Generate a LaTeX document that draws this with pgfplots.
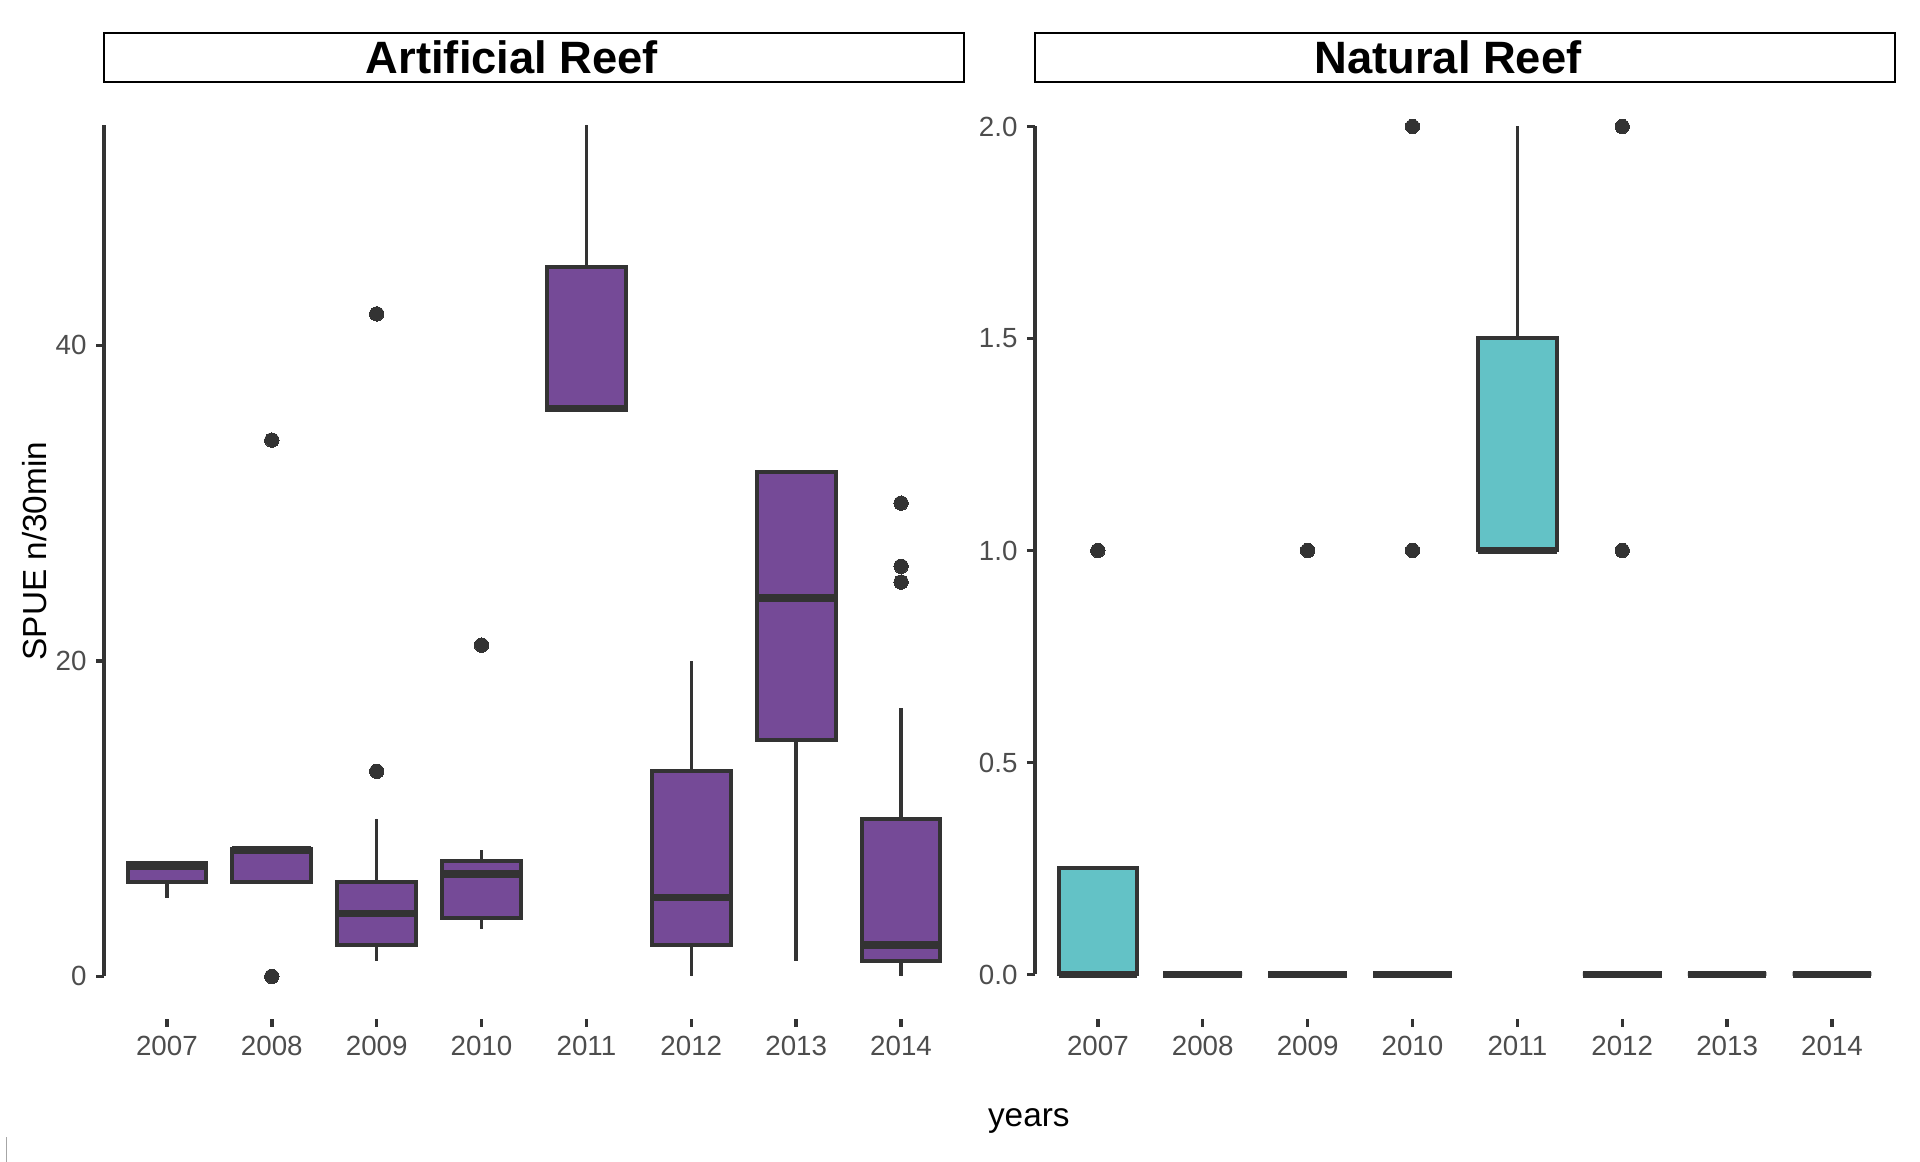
\documentclass[border=0pt]{standalone}
\usepackage{pgfplots}
\pgfplotsset{compat=1.18}
\usepgfplotslibrary{statistics}
\usepackage{fontspec}
\setmainfont{Liberation Sans}
\definecolor{ggpurple}{HTML}{754A97}
\definecolor{ggteal}{HTML}{63C2C6}
\definecolor{gg20}{HTML}{333333}
\definecolor{gg30}{HTML}{4D4D4D}
\pgfplotsset{
  panel/.style={
    width=322.5pt, height=351.375pt, scale only axis,
    xmin=0.4, xmax=8.6,
    xtick={1,...,8}, xticklabels={2007,2008,2009,2010,2011,2012,2013,2014},
    axis x line*=bottom, axis y line*=left, axis line style={draw=none},
    tick align=outside, major tick length=3pt,
    tick style={gg20, line width=1.3pt},
    tick label style={font=\fontsize{10.4}{12}\selectfont, text=gg30},
    /pgf/number format/assume math mode=true,
    clip=false,
  },
  bx/.style={
    draw=gg20, line width=1.5pt, solid,
    mark=*, mark size=2.7pt, mark options={fill=gg20, draw=gg20, line width=0pt},
    boxplot/draw direction=y,
    boxplot/box extend=0.75, boxplot/whisker extend=0,
    boxplot/every median/.style={line width=2.8pt},
    boxplot/every whisker/.style={line width=1.3pt},
  },
  bp/.style={bx, fill=ggpurple},
  bt/.style={bx, fill=ggteal},
}
\begin{document}
\begin{tikzpicture}
\path[use as bounding box] (0,0) rectangle (720pt,435.75pt);
% facet strips
\draw[black, line width=0.9pt, fill=white] (39pt,405pt) rectangle (361.5pt,423.4pt);
\node[font=\fontsize{17}{20}\selectfont\bfseries] at (192pt,414.2pt) {Artificial Reef};
\draw[black, line width=0.9pt, fill=white] (388.1pt,405pt) rectangle (710.6pt,423.4pt);
\node[font=\fontsize{17}{20}\selectfont\bfseries] at (543pt,414.2pt) {Natural Reef};
% axis titles
\node[rotate=90, font=\fontsize{12.5}{14}\selectfont] at (12.8pt,229.1pt) {SPUE n/30min};
\node[font=\fontsize{12.5}{14}\selectfont] at (385.8pt,15.3pt) {years};
\draw[gray!70, line width=0.4pt] (2.3pt,0pt) -- (2.3pt,9.5pt);

\begin{axis}[panel, at={(39pt,53.625pt)}, anchor=south west,
  ymin=-2.7, ymax=56.7, ytick={0,20,40}]
\addplot[bp, boxplot prepared={draw position=1, lower whisker=5, lower quartile=6, median=7, upper quartile=7.2, upper whisker=7.2}] coordinates {};
\addplot[bp, boxplot prepared={draw position=2, lower whisker=6, lower quartile=6, median=8, upper quartile=8.1, upper whisker=8.1}] table[row sep=\\, y index=0] {34\\ 0\\};
\addplot[bp, boxplot prepared={draw position=3, lower whisker=1, lower quartile=2, median=4, upper quartile=6, upper whisker=10}] table[row sep=\\, y index=0] {13\\ 42\\};
\addplot[bp, boxplot prepared={draw position=4, lower whisker=3, lower quartile=3.7, median=6.5, upper quartile=7.3, upper whisker=8}] table[row sep=\\, y index=0] {21\\};
\addplot[bp, boxplot prepared={draw position=5, lower whisker=36, lower quartile=35.9, median=36, upper quartile=45, upper whisker=54}] coordinates {};
\addplot[bp, boxplot prepared={draw position=6, lower whisker=0, lower quartile=2, median=5, upper quartile=13, upper whisker=20}] coordinates {};
\addplot[bp, boxplot prepared={draw position=7, lower whisker=1, lower quartile=15, median=24, upper quartile=32, upper whisker=32}] coordinates {};
\addplot[bp, boxplot prepared={draw position=8, lower whisker=0, lower quartile=1, median=2, upper quartile=10, upper whisker=17}] table[row sep=\\, y index=0] {30\\ 26\\ 25\\};
\draw[gg20, line width=1.3pt] (axis cs:0.4,0) -- (axis cs:0.4,54);
\end{axis}

\begin{axis}[panel, at={(388.1pt,53.625pt)}, anchor=south west,
  ymin=-0.105, ymax=2.105, ytick={0,0.5,1,1.5,2},
  yticklabel style={/pgf/number format/.cd, fixed, fixed zerofill, precision=1}]
\addplot[bt, boxplot prepared={draw position=1, lower whisker=0, lower quartile=0, median=0, upper quartile=0.25, upper whisker=0.25}] table[row sep=\\, y index=0] {1\\};
\addplot[bt, boxplot prepared={draw position=2, lower whisker=0, lower quartile=0, median=0, upper quartile=0, upper whisker=0}] coordinates {};
\addplot[bt, boxplot prepared={draw position=3, lower whisker=0, lower quartile=0, median=0, upper quartile=0, upper whisker=0}] table[row sep=\\, y index=0] {1\\};
\addplot[bt, boxplot prepared={draw position=4, lower whisker=0, lower quartile=0, median=0, upper quartile=0, upper whisker=0}] table[row sep=\\, y index=0] {1\\ 2\\};
\addplot[bt, boxplot prepared={draw position=5, lower whisker=1, lower quartile=1, median=1, upper quartile=1.5, upper whisker=2}] coordinates {};
\addplot[bt, boxplot prepared={draw position=6, lower whisker=0, lower quartile=0, median=0, upper quartile=0, upper whisker=0}] table[row sep=\\, y index=0] {1\\ 2\\};
\addplot[bt, boxplot prepared={draw position=7, lower whisker=0, lower quartile=0, median=0, upper quartile=0, upper whisker=0}] coordinates {};
\addplot[bt, boxplot prepared={draw position=8, lower whisker=0, lower quartile=0, median=0, upper quartile=0, upper whisker=0}] coordinates {};
\draw[gg20, line width=1.3pt] (axis cs:0.4,0) -- (axis cs:0.4,2);
\end{axis}
\end{tikzpicture}
\end{document}
